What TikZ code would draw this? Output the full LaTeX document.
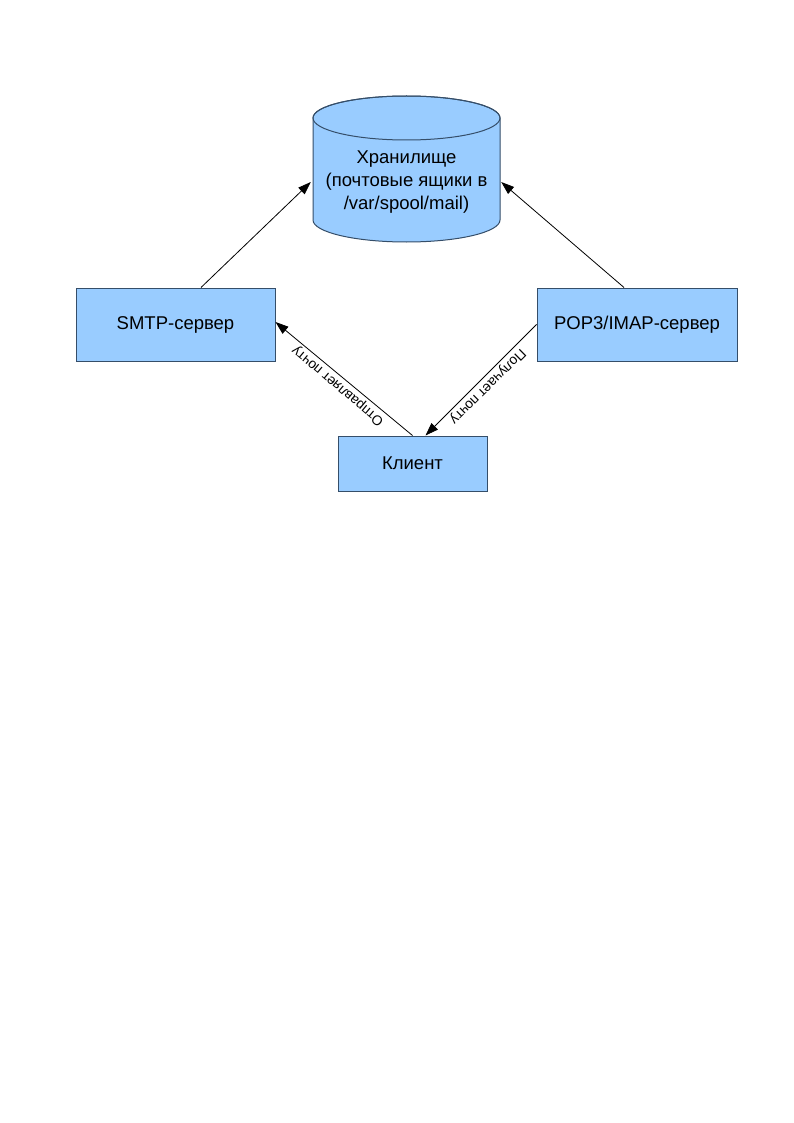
\documentclass[tikz,border=0pt]{standalone}
\usepackage{fontspec}
\setmainfont{Liberation Sans}
\usetikzlibrary{arrows.meta}
\definecolor{boxfill}{RGB}{153,204,255}
\definecolor{boxline}{RGB}{53,78,105}
\begin{document}
\begin{tikzpicture}[x=1pt,y=1pt,
  box/.style={draw=boxline, fill=boxfill, line width=1pt, inner sep=0pt,
    font=\fontsize{18.5}{22}\selectfont, text=black},
  conn/.style={draw=black, line width=0.8pt, -{Triangle[length=13pt,width=9pt]}},
  lbl/.style={font=\fontsize{13.8}{15}\selectfont, inner sep=2.5pt, anchor=south}]
\useasboundingbox (0,0) rectangle (794,-1123);
\fill[white] (0,0) rectangle (794,-1123);
% cylinder storage
\path[draw=boxline, fill=boxfill, line width=1pt]
  (313,-118) -- (313,-220) arc[start angle=180,end angle=360,x radius=93.5,y radius=22]
  -- (500,-118) arc[start angle=0,end angle=180,x radius=93.5,y radius=22] -- cycle;
\draw[boxline, line width=1pt] (406.5,-118) ellipse[x radius=93.5,y radius=22];
\node[minimum width=187pt, minimum height=146pt, inner sep=0pt] (store) at (406.5,-169) {};
\node[align=center, font=\fontsize{18.5}{23}\selectfont] (storetext) at (406.5,-182)
  {Хранилище\\(почтовые ящики в\\/var/spool/mail)};
% boxes
\node[box, minimum width=199pt, minimum height=73pt] (smtp) at (175.5,-324.5) {SMTP-сервер};
\node[box, minimum width=200pt, minimum height=73pt] (pop) at (637,-324.5) {POP3/IMAP-сервер};
\node[box, minimum width=149pt, minimum height=55pt] (client) at (412.5,-463.5) {Клиент};
% connectors
\draw[conn] ([xshift=25.5pt]smtp.north) -- ([xshift=-2pt,yshift=-13pt]store.west);
\draw[conn] ([xshift=-13pt]pop.north) -- ([xshift=1pt,yshift=-13pt]store.east);
\draw[conn] (client.north) -- node[lbl, rotate=140] {Отправляет почту} ([yshift=2.5pt]smtp.east);
\draw[conn] (pop.west) -- node[lbl, rotate=224.7] {Получает почту} ([xshift=13pt]client.north);
\end{tikzpicture}
\end{document}
